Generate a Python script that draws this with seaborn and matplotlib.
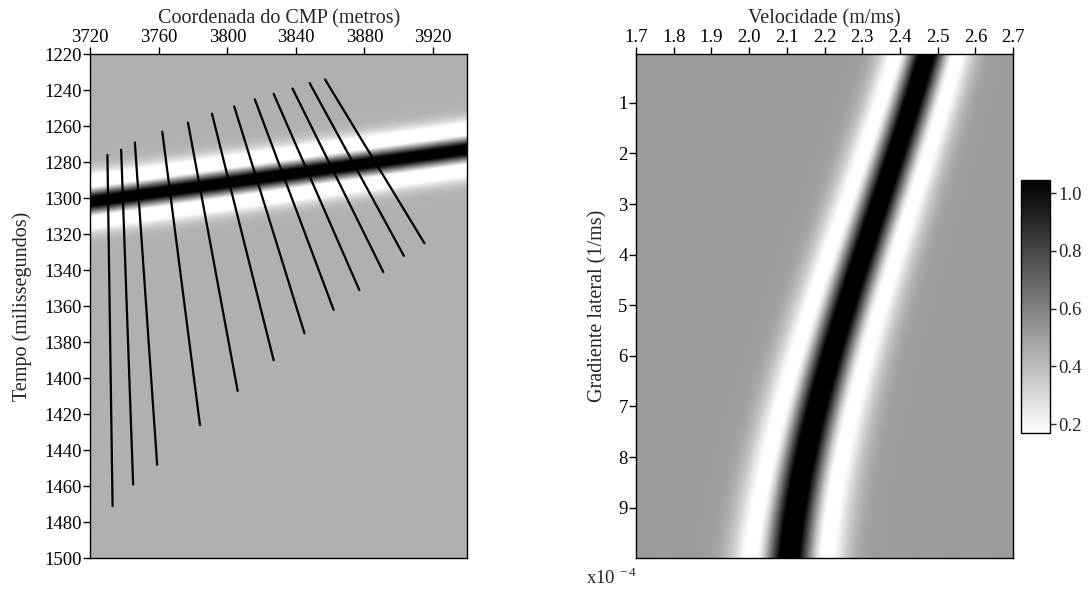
import numpy as np
import pandas as pd
import matplotlib
matplotlib.use("Agg")
import matplotlib.pyplot as plt
import seaborn as sns

# ---- left panel: reflection event and moveout curves ----
cmp_range = [3720, 3940]          # metres
time_range = [1220, 1500]         # milliseconds
event_cmp = [3720, 3940]
event_time = [1302, 1273]         # centre of the reflection (ms)
event_halfcycle = 11.0            # ms from trough to side lobe

# curve end points (top / bottom) in CMP metres and ms
curve_top_x = [3730, 3738, 3746, 3762, 3777, 3791, 3804, 3816, 3827, 3838, 3848, 3857]
curve_top_t = [1276, 1273, 1269, 1263, 1258, 1253, 1249, 1245, 1242, 1239, 1236, 1234]
curve_bot_x = [3733, 3745, 3759, 3784, 3806, 3827, 3845, 3862, 3877, 3891, 3903, 3915]
curve_bot_t = [1471, 1459, 1448, 1426, 1407, 1390, 1375, 1362, 1351, 1341, 1332, 1325]

# ---- right panel: coherence over velocity x lateral gradient ----
vel_range = [1.7, 2.7]            # m/ms
grad_range = [0.04, 10.0]         # x1e-4 1/ms
ridge_grad = [0.04, 1, 3, 5, 7, 9, 10]
ridge_vel = [2.471, 2.434, 2.345, 2.257, 2.185, 2.120, 2.108]
lobe_grad = [1, 5, 9]
lobe_half = [0.083, 0.093, 0.098]  # velocity offset of the white side lobes
cbar_ticks = [0.2, 0.4, 0.6, 0.8, 1.0]
cbar_limits = [0.17, 1.045]

sns.set_style("ticks")
plt.rcParams["font.family"] = ["Liberation Serif", "DejaVu Serif"]
plt.rcParams["mathtext.fontset"] = "custom"
plt.rcParams["mathtext.rm"] = "Liberation Serif"
plt.rcParams["axes.edgecolor"] = "black"
plt.rcParams["axes.linewidth"] = 1.0
FS_TICK = 13.5
FS_LABEL = 14.5


def ricker(d, half):
    """Zero-phase Ricker wavelet with its negative lobes at +/-half."""
    u2 = (d / (half / np.sqrt(1.5))) ** 2
    return (1.0 - 2.0 * u2) * np.exp(-u2)


def shaped(w, pos, neg):
    """Separate gains for the central peak and the side lobes."""
    return pos * np.maximum(w, 0) + neg * np.minimum(w, 0)


fig = plt.figure(figsize=(10.88, 5.96), dpi=100)
axL = fig.add_axes([0.083, 0.0633, 0.3465, 0.8456])
axR = fig.add_axes([0.5846, 0.0633, 0.3465, 0.8456])
cax = fig.add_axes([0.9384, 0.2735, 0.0267, 0.4245])

# left image
xs = np.linspace(cmp_range[0], cmp_range[1], 440)
ts = np.linspace(time_range[0], time_range[1], 1120)
X, T = np.meshgrid(xs, ts)
T0 = np.interp(X, event_cmp, event_time)
fieldL = shaped(ricker(T - T0, event_halfcycle), 1.0, 1.2)
axL.imshow(fieldL, cmap="gray_r", vmin=-0.36, vmax=0.8, aspect="auto",
           extent=[cmp_range[0], cmp_range[1], time_range[1], time_range[0]],
           interpolation="bilinear")

segs = []
for i in range(len(curve_top_x)):
    segs.append({"x": curve_top_x[i], "t": curve_top_t[i], "seg": i})
    segs.append({"x": curve_bot_x[i], "t": curve_bot_t[i], "seg": i})
df = pd.DataFrame(segs)
sns.lineplot(data=df, x="x", y="t", units="seg", estimator=None, sort=False,
             color="black", linewidth=1.6, legend=False, ax=axL)

axL.set_xlim(cmp_range)
axL.set_ylim(time_range[1], time_range[0])
axL.xaxis.tick_top()
axL.xaxis.set_label_position("top")
axL.set_xticks(np.arange(3720, 3921, 40))
axL.set_yticks(np.arange(1220, 1501, 20))
axL.set_xlabel("Coordenada do CMP (metros)", fontsize=FS_LABEL, labelpad=4)
axL.set_ylabel("Tempo (milissegundos)", fontsize=FS_LABEL, labelpad=9)
axL.tick_params(axis="both", direction="out", length=5, width=1,
                labelsize=FS_TICK, pad=1, colors="black")

# right image: ridge path smoothed through the picked knots
vs = np.linspace(vel_range[0], vel_range[1], 500)
gs = np.linspace(grad_range[0], grad_range[1], 500)
V, G = np.meshgrid(vs, gs)
ridge_fit = np.polyfit(ridge_grad, ridge_vel, 3)
lobe_fit = np.polyfit(lobe_grad, lobe_half, 1)
V0 = np.polyval(ridge_fit, G)
H = np.polyval(lobe_fit, G)
fieldR = 0.51 + shaped(ricker(V - V0, H), 0.72, 0.85)
im = axR.imshow(fieldR, cmap="gray_r", vmin=cbar_limits[0], vmax=cbar_limits[1],
                aspect="auto",
                extent=[vel_range[0], vel_range[1], grad_range[1], grad_range[0]],
                interpolation="bilinear")
axR.set_xlim(vel_range)
axR.set_ylim(grad_range[1], grad_range[0])
axR.xaxis.tick_top()
axR.xaxis.set_label_position("top")
vel_ticks = np.round(np.arange(1.7, 2.71, 0.1), 1)
axR.set_xticks(vel_ticks)
axR.set_xticklabels([f"{v:.1f}" for v in vel_ticks])
axR.set_yticks(range(1, 10))
axR.set_xlabel("Velocidade (m/ms)", fontsize=FS_LABEL, labelpad=4)
axR.set_ylabel("Gradiente lateral (1/ms)", fontsize=FS_LABEL, labelpad=8)
axR.tick_params(axis="both", direction="out", length=5, width=1,
                labelsize=FS_TICK, pad=1, colors="black")
axR.text(-0.065, -0.017, r"x10$^{\,-4}$", transform=axR.transAxes,
         fontsize=FS_TICK, ha="center", va="top")

cb = fig.colorbar(im, cax=cax, ticks=cbar_ticks)
cb.ax.set_yticklabels([f"{v:.1f}" for v in cbar_ticks])
cb.ax.tick_params(direction="out", length=4, width=1, labelsize=FS_TICK, pad=2)
cb.outline.set_edgecolor("black")
cb.outline.set_linewidth(1.0)

fig.savefig("out.png", dpi=100)
